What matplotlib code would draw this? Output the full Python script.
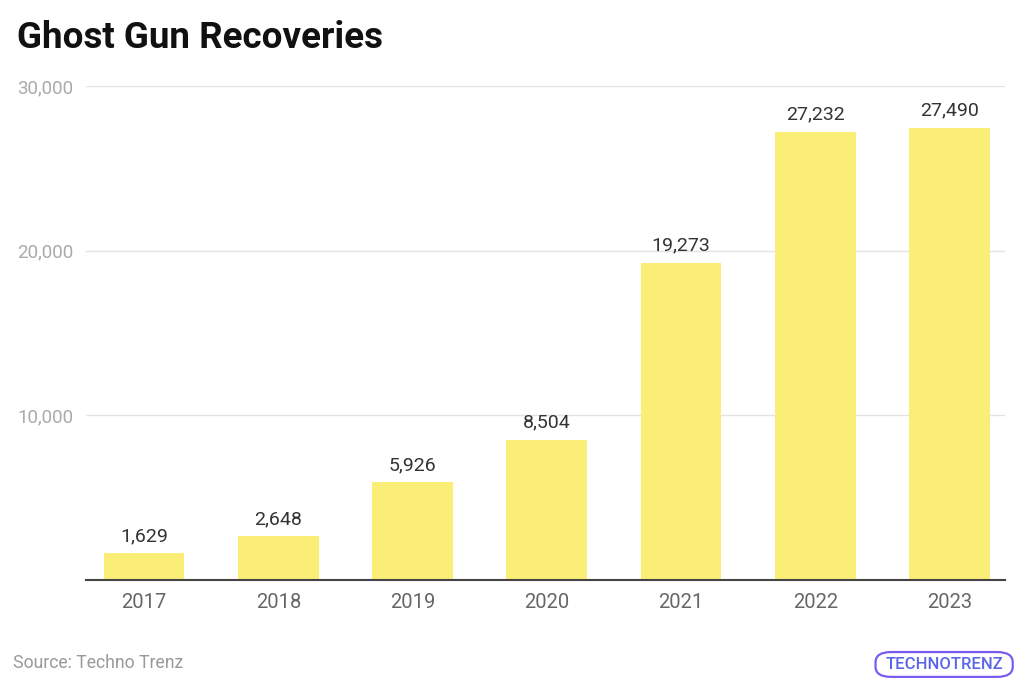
import matplotlib.pyplot as plt
from matplotlib.patches import FancyBboxPatch

plt.rcParams['font.family'] = ['Roboto', 'DejaVu Sans']

years = ['2017', '2018', '2019', '2020', '2021', '2022', '2023']
recoveries = [1629, 2648, 5926, 8504, 19273, 27232, 27490]
yticks = [10000, 20000, 30000]

fig = plt.figure(figsize=(10.24, 6.9), dpi=100)
ax = fig.add_axes([0.084, 0.1594, 0.897, 0.7156])

x = range(len(years))
bars = ax.bar(x, recoveries, width=0.6, color='#FBEE76', zorder=2)
for b, v in zip(bars, recoveries):
    ax.text(b.get_x() + b.get_width() / 2, v + 500, f'{v:,}',
            ha='center', va='bottom', fontsize=14, color='#333333')

ax.set_xlim(-0.432, 6.41)
ax.set_ylim(0, 30000)
ax.set_yticks(yticks)
ax.set_yticklabels([f'{t:,}' for t in yticks])
ax.set_xticks(list(x))
ax.set_xticklabels(years)
ax.grid(axis='y', color='#e3e3e3', linewidth=1, zorder=0)
ax.tick_params(axis='y', length=0, pad=9, labelsize=13.5, labelcolor='#aaaaaa')
ax.tick_params(axis='x', length=0, pad=9, labelsize=14.5, labelcolor='#666666')
for s in ['top', 'right', 'left']:
    ax.spines[s].set_visible(False)
ax.spines['bottom'].set_color('#444444')
ax.spines['bottom'].set_linewidth(1.5)
ax.spines['bottom'].set_zorder(3)

fig.text(0.017, 0.93, 'Ghost Gun Recoveries', fontsize=26.5, fontweight='bold',
         color='#111111', ha='left', va='baseline')
fig.text(0.013, 0.032, 'Source: Techno Trenz', fontsize=12.7,
         color='#999999', ha='left', va='baseline')

# logo
logo = FancyBboxPatch((0.857, 0.021), 0.130, 0.032,
                      boxstyle='round,pad=0.002,rounding_size=0.015',
                      transform=fig.transFigure, fill=False,
                      edgecolor='#7a5cf0', linewidth=1.6)
fig.patches.append(logo)
fig.text(0.922, 0.037, 'TECHNOTRENZ', fontsize=12, fontweight='medium',
         color='#5a66e8', ha='center', va='center')

fig.savefig('out.png', dpi=100)
